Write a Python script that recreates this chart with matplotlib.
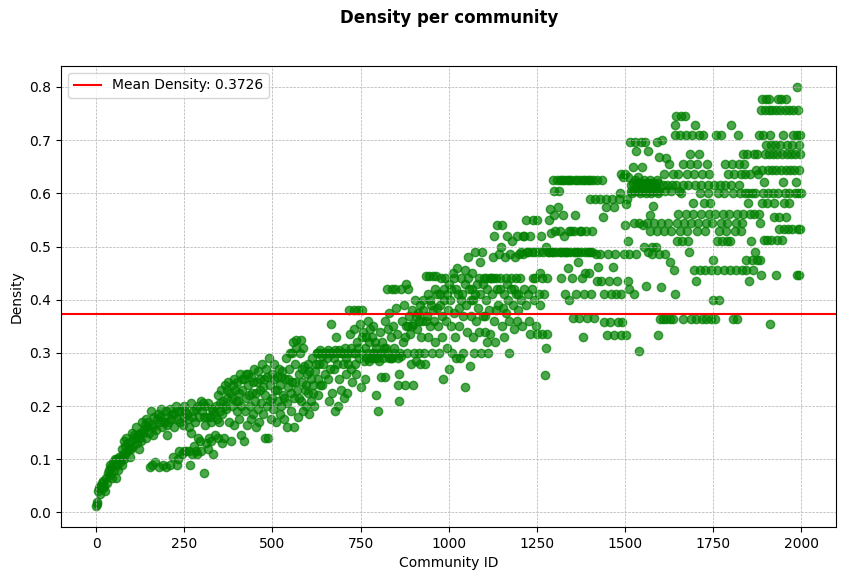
import matplotlib
matplotlib.use("Agg")
import matplotlib.pyplot as plt

# (community id, density), one list per id range
block_0_400 = [
    (0, 0.012), (2, 0.02), (3, 0.015), (5, 0.04), (8, 0.045), (10, 0.05), (12, 0.035), (15, 0.055),
    (18, 0.045), (20, 0.06), (22, 0.05), (25, 0.04), (28, 0.065), (30, 0.055), (32, 0.075), (35, 0.08),
    (38, 0.07), (40, 0.09), (42, 0.085), (45, 0.065), (48, 0.095), (50, 0.08), (52, 0.1), (55, 0.065),
    (58, 0.1), (60, 0.09), (65, 0.105), (68, 0.095), (70, 0.1), (72, 0.12), (75, 0.11), (78, 0.135),
    (80, 0.1), (82, 0.125), (85, 0.14), (88, 0.115), (90, 0.13), (95, 0.105), (98, 0.12), (100, 0.135),
    (102, 0.15), (105, 0.125), (110, 0.14), (112, 0.16), (115, 0.13), (118, 0.145), (120, 0.12),
    (125, 0.15), (128, 0.135), (130, 0.17), (135, 0.155), (140, 0.14), (142, 0.175), (145, 0.16),
    (150, 0.15), (152, 0.085), (155, 0.19), (158, 0.165), (160, 0.145), (165, 0.18), (168, 0.095),
    (170, 0.155), (175, 0.185), (178, 0.085), (180, 0.17), (185, 0.195), (188, 0.16), (190, 0.09),
    (195, 0.18), (200, 0.145), (205, 0.17), (208, 0.09), (210, 0.195), (215, 0.185), (218, 0.105),
    (220, 0.16), (225, 0.2), (228, 0.09), (230, 0.175), (235, 0.115), (240, 0.19), (242, 0.11),
    (245, 0.165), (250, 0.2), (255, 0.115), (258, 0.185), (260, 0.175), (265, 0.09), (268, 0.205),
    (270, 0.15), (275, 0.19), (278, 0.125), (280, 0.17), (285, 0.11), (288, 0.2), (290, 0.14),
    (292, 0.18), (295, 0.135), (298, 0.21), (300, 0.19), (305, 0.075), (308, 0.165), (310, 0.2),
    (312, 0.13), (315, 0.18), (318, 0.205), (320, 0.14), (325, 0.17), (328, 0.195), (330, 0.11),
    (335, 0.185), (338, 0.145), (340, 0.2), (345, 0.22), (348, 0.17), (350, 0.205), (355, 0.23),
    (358, 0.185), (360, 0.21), (362, 0.14), (365, 0.24), (368, 0.195), (370, 0.215), (375, 0.245),
    (378, 0.17), (380, 0.225), (382, 0.135), (385, 0.2), (388, 0.24), (390, 0.165), (395, 0.23),
    (398, 0.19),
    (62, 0.08), (73, 0.09), (83, 0.11), (93, 0.12), (108, 0.145), (122, 0.14), (132, 0.15),
    (138, 0.165), (148, 0.17), (162, 0.16), (172, 0.175), (182, 0.18), (192, 0.17), (198, 0.19),
    (202, 0.165), (212, 0.175), (222, 0.185), (232, 0.19), (238, 0.17), (248, 0.18), (252, 0.19),
    (262, 0.16), (272, 0.18), (282, 0.195), (302, 0.205), (306, 0.18), (322, 0.18), (332, 0.19),
    (342, 0.175), (352, 0.19), (366, 0.2), (372, 0.23), (384, 0.215), (392, 0.25), (396, 0.21),
    (158, 0.09), (198, 0.085), (232, 0.1), (248, 0.115), (262, 0.115), (272, 0.11), (282, 0.115),
    (296, 0.115), (316, 0.12), (326, 0.135), (346, 0.14), (356, 0.13),
]

block_400_800 = [
    (400, 0.245), (402, 0.21), (405, 0.175), (408, 0.26), (410, 0.2), (412, 0.145), (415, 0.23),
    (418, 0.135), (420, 0.25), (422, 0.19), (425, 0.215), (428, 0.165), (430, 0.26), (432, 0.24),
    (435, 0.2), (438, 0.175), (440, 0.255), (442, 0.225), (445, 0.185), (448, 0.27), (450, 0.21),
    (452, 0.16), (455, 0.245), (458, 0.195), (460, 0.265), (462, 0.17), (465, 0.23), (468, 0.205),
    (470, 0.28), (472, 0.185), (475, 0.25), (478, 0.14), (480, 0.22), (482, 0.27), (485, 0.2),
    (488, 0.14), (490, 0.29), (492, 0.24), (495, 0.175), (498, 0.26), (500, 0.215), (502, 0.195),
    (505, 0.28), (508, 0.23), (510, 0.17), (512, 0.255), (515, 0.21), (518, 0.27), (520, 0.185),
    (522, 0.24), (525, 0.2), (528, 0.265), (530, 0.22), (532, 0.175), (535, 0.25), (538, 0.29),
    (540, 0.205), (542, 0.16), (545, 0.235), (548, 0.27), (550, 0.3), (552, 0.19), (555, 0.245),
    (558, 0.32), (560, 0.215), (562, 0.16), (565, 0.28), (568, 0.325), (570, 0.23), (572, 0.18),
    (575, 0.26), (578, 0.3), (580, 0.21), (582, 0.325), (585, 0.245), (588, 0.19), (590, 0.275),
    (592, 0.23), (595, 0.2), (598, 0.26), (600, 0.28), (602, 0.225), (605, 0.185), (608, 0.25),
    (610, 0.21), (612, 0.29), (615, 0.24), (618, 0.2), (620, 0.265), (625, 0.3), (628, 0.22),
    (630, 0.25), (632, 0.28), (635, 0.3), (640, 0.295), (642, 0.24), (645, 0.3), (650, 0.26),
    (655, 0.3), (658, 0.25), (660, 0.21), (662, 0.3), (665, 0.355), (668, 0.225), (670, 0.3),
    (675, 0.27), (678, 0.19), (680, 0.33), (682, 0.3), (685, 0.2), (688, 0.25), (690, 0.305),
    (695, 0.23), (698, 0.3), (700, 0.28), (702, 0.215), (705, 0.31), (708, 0.26), (710, 0.29),
    (712, 0.225), (715, 0.3), (718, 0.38), (720, 0.335), (722, 0.27), (725, 0.245), (728, 0.3),
    (730, 0.38), (732, 0.345), (735, 0.28), (738, 0.26), (740, 0.32), (742, 0.38), (745, 0.29),
    (748, 0.355), (750, 0.3), (752, 0.235), (755, 0.38), (758, 0.34), (760, 0.285), (762, 0.25),
    (765, 0.33), (768, 0.29), (770, 0.36), (772, 0.3), (775, 0.285), (778, 0.345), (780, 0.29),
    (782, 0.33), (785, 0.35), (788, 0.29), (790, 0.32), (792, 0.3), (795, 0.22), (798, 0.29),
    (800, 0.19),
    (404, 0.225), (414, 0.25), (424, 0.26), (434, 0.22), (444, 0.245), (454, 0.225), (464, 0.25),
    (474, 0.235), (484, 0.255), (494, 0.21), (504, 0.25), (514, 0.23), (524, 0.255), (534, 0.215),
    (544, 0.25), (554, 0.225), (564, 0.245), (574, 0.215), (584, 0.27), (594, 0.24), (604, 0.265),
    (614, 0.225), (624, 0.28), (634, 0.24), (644, 0.28), (654, 0.29), (664, 0.27), (674, 0.29),
    (684, 0.28), (694, 0.3), (704, 0.3), (714, 0.28), (724, 0.31), (734, 0.3), (744, 0.31),
    (754, 0.33), (764, 0.31), (774, 0.32), (784, 0.3), (794, 0.31), (556, 0.3), (566, 0.31),
    (586, 0.31), (626, 0.3), (636, 0.305), (648, 0.3), (658, 0.305), (668, 0.3), (678, 0.305),
]

block_800_1200 = [
    (802, 0.285), (805, 0.34), (808, 0.255), (810, 0.3), (812, 0.32), (815, 0.29), (818, 0.36),
    (820, 0.255), (822, 0.31), (825, 0.42), (828, 0.345), (830, 0.29), (832, 0.375), (835, 0.33),
    (838, 0.42), (840, 0.29), (842, 0.35), (845, 0.31), (848, 0.42), (850, 0.385), (852, 0.335),
    (855, 0.24), (858, 0.21), (860, 0.26), (862, 0.3), (865, 0.42), (868, 0.36), (870, 0.32),
    (872, 0.39), (875, 0.24), (878, 0.35), (880, 0.43), (882, 0.3), (885, 0.42), (888, 0.37),
    (890, 0.335), (892, 0.28), (895, 0.38), (898, 0.24), (900, 0.355), (902, 0.3), (905, 0.4),
    (908, 0.285), (910, 0.345), (912, 0.375), (915, 0.3), (918, 0.28), (920, 0.39), (922, 0.33),
    (925, 0.36), (928, 0.4), (930, 0.3), (932, 0.28), (935, 0.445), (938, 0.37), (940, 0.33),
    (942, 0.41), (945, 0.445), (948, 0.35), (950, 0.39), (952, 0.3), (955, 0.445), (958, 0.36),
    (960, 0.42), (962, 0.32), (965, 0.445), (968, 0.385), (970, 0.35), (972, 0.3), (975, 0.41),
    (978, 0.44), (980, 0.37), (982, 0.33), (985, 0.25), (988, 0.42), (990, 0.44), (992, 0.36),
    (995, 0.31), (998, 0.38), (1000, 0.27), (1002, 0.43), (1005, 0.4), (1008, 0.35), (1010, 0.3),
    (1012, 0.45), (1015, 0.375), (1018, 0.33), (1020, 0.42), (1022, 0.29), (1025, 0.46),
    (1028, 0.385), (1030, 0.35), (1032, 0.29), (1035, 0.44), (1038, 0.41), (1040, 0.37),
    (1042, 0.3), (1045, 0.455), (1047, 0.235), (1050, 0.39), (1052, 0.34), (1055, 0.48),
    (1058, 0.42), (1060, 0.275), (1062, 0.37), (1065, 0.45), (1068, 0.33), (1070, 0.4),
    (1072, 0.3), (1075, 0.49), (1078, 0.36), (1080, 0.43), (1082, 0.385), (1085, 0.34),
    (1088, 0.47), (1090, 0.41), (1092, 0.3), (1095, 0.49), (1098, 0.37), (1100, 0.44),
    (1102, 0.34), (1105, 0.4), (1108, 0.32), (1110, 0.42), (1112, 0.3), (1115, 0.38),
    (1118, 0.335), (1120, 0.44), (1122, 0.41), (1125, 0.48), (1128, 0.36), (1130, 0.52),
    (1132, 0.32), (1135, 0.44), (1138, 0.54), (1140, 0.39), (1142, 0.485), (1145, 0.42),
    (1148, 0.5), (1150, 0.35), (1152, 0.54), (1155, 0.385), (1158, 0.33), (1160, 0.48),
    (1162, 0.44), (1165, 0.52), (1168, 0.4), (1170, 0.3), (1172, 0.36), (1175, 0.485),
    (1178, 0.42), (1180, 0.51), (1182, 0.39), (1185, 0.345), (1188, 0.48), (1190, 0.41),
    (1192, 0.44), (1195, 0.52), (1198, 0.38), (1200, 0.485),
    (806, 0.3), (816, 0.31), (826, 0.3), (836, 0.29), (846, 0.3), (856, 0.29), (866, 0.295),
    (876, 0.33), (886, 0.35), (896, 0.35), (906, 0.37), (916, 0.36), (926, 0.38), (936, 0.36),
    (946, 0.4), (956, 0.38), (966, 0.41), (976, 0.39), (986, 0.4), (996, 0.41), (1006, 0.42),
    (1016, 0.44), (1026, 0.41), (1036, 0.4), (1046, 0.43), (1056, 0.44), (1066, 0.42),
    (1076, 0.41), (1086, 0.44), (1096, 0.43), (1106, 0.44), (1116, 0.44), (1126, 0.44),
    (1136, 0.42), (1146, 0.44), (1156, 0.41), (1166, 0.43), (1176, 0.44), (1186, 0.42),
    (1196, 0.41), (1063, 0.4), (1104, 0.37), (1134, 0.38), (1164, 0.375), (1194, 0.36),
]

block_1200_1600 = [
    (1202, 0.44), (1205, 0.4), (1208, 0.35), (1210, 0.52), (1212, 0.485), (1215, 0.42),
    (1218, 0.39), (1220, 0.55), (1222, 0.49), (1225, 0.41), (1228, 0.36), (1230, 0.52),
    (1232, 0.335), (1235, 0.49), (1238, 0.55), (1240, 0.44), (1242, 0.4), (1245, 0.49),
    (1248, 0.35), (1250, 0.55), (1252, 0.335), (1255, 0.49), (1258, 0.39), (1260, 0.45),
    (1262, 0.52), (1265, 0.335), (1268, 0.49), (1270, 0.41), (1272, 0.258), (1275, 0.5),
    (1276, 0.31), (1278, 0.44), (1280, 0.335), (1282, 0.49), (1285, 0.55), (1288, 0.57),
    (1290, 0.525), (1292, 0.49), (1295, 0.625), (1298, 0.56), (1300, 0.605), (1302, 0.53),
    (1305, 0.49), (1308, 0.625), (1310, 0.575), (1312, 0.605), (1315, 0.53), (1318, 0.49),
    (1320, 0.44), (1322, 0.625), (1325, 0.56), (1328, 0.52), (1330, 0.41), (1332, 0.49),
    (1335, 0.625), (1338, 0.46), (1340, 0.53), (1342, 0.4), (1345, 0.49), (1348, 0.625),
    (1350, 0.44), (1352, 0.365), (1355, 0.53), (1357, 0.56), (1360, 0.49), (1362, 0.41),
    (1365, 0.625), (1368, 0.47), (1370, 0.365), (1372, 0.53), (1375, 0.49), (1378, 0.44),
    (1380, 0.625), (1382, 0.33), (1385, 0.41), (1388, 0.49), (1390, 0.53), (1392, 0.365),
    (1395, 0.625), (1398, 0.45), (1400, 0.59), (1402, 0.49), (1405, 0.41), (1408, 0.53),
    (1410, 0.625), (1412, 0.365), (1415, 0.59), (1418, 0.486), (1420, 0.436), (1422, 0.625),
    (1425, 0.461), (1428, 0.59), (1430, 0.486), (1432, 0.436), (1435, 0.625), (1437, 0.555),
    (1440, 0.41), (1442, 0.358), (1445, 0.59), (1447, 0.575), (1450, 0.333), (1452, 0.486),
    (1455, 0.436), (1458, 0.358), (1460, 0.41), (1462, 0.59), (1465, 0.461), (1468, 0.333),
    (1470, 0.575), (1472, 0.486), (1475, 0.41), (1478, 0.436), (1480, 0.358), (1482, 0.59),
    (1485, 0.6), (1488, 0.333), (1489, 0.636), (1490, 0.41), (1492, 0.358), (1494, 0.63),
    (1497, 0.485), (1499, 0.54), (1500, 0.636), (1502, 0.333), (1504, 0.58), (1506, 0.59),
    (1508, 0.51), (1509, 0.436), (1510, 0.63), (1512, 0.485), (1513, 0.42), (1515, 0.696),
    (1516, 0.605), (1518, 0.615), (1520, 0.6), (1522, 0.62), (1523, 0.65), (1525, 0.41),
    (1526, 0.545), (1527, 0.605), (1528, 0.696), (1530, 0.625), (1531, 0.485), (1532, 0.68),
    (1533, 0.62), (1535, 0.615), (1537, 0.605), (1538, 0.63), (1540, 0.303), (1541, 0.545),
    (1542, 0.6), (1544, 0.62), (1545, 0.696), (1547, 0.605), (1548, 0.65), (1550, 0.615),
    (1551, 0.54), (1552, 0.62), (1553, 0.5), (1555, 0.625), (1557, 0.605), (1558, 0.696),
    (1560, 0.6), (1561, 0.425), (1562, 0.545), (1563, 0.62), (1565, 0.68), (1566, 0.49),
    (1567, 0.605), (1568, 0.615), (1570, 0.56), (1571, 0.53), (1572, 0.625), (1573, 0.62),
    (1575, 0.6), (1576, 0.5), (1577, 0.605), (1578, 0.486), (1580, 0.576), (1582, 0.545),
    (1583, 0.62), (1585, 0.615), (1587, 0.605), (1588, 0.5), (1590, 0.696), (1591, 0.53),
    (1592, 0.625), (1593, 0.62), (1594, 0.333), (1595, 0.6), (1596, 0.485), (1597, 0.668),
    (1598, 0.605), (1599, 0.364),
    (1204, 0.49), (1214, 0.52), (1226, 0.49), (1236, 0.42), (1246, 0.44), (1256, 0.41),
    (1266, 0.44), (1286, 0.49), (1296, 0.49), (1316, 0.49), (1326, 0.49), (1336, 0.49),
    (1346, 0.53), (1356, 0.49), (1366, 0.49), (1376, 0.53), (1386, 0.45), (1396, 0.49),
    (1406, 0.49), (1316, 0.625), (1328, 0.625), (1342, 0.625), (1358, 0.625), (1372, 0.625),
    (1388, 0.625), (1402, 0.625),
]

block_1600_2000 = [
    (1602, 0.424), (1603, 0.545), (1605, 0.7), (1607, 0.615), (1608, 0.364), (1610, 0.636),
    (1612, 0.53), (1614, 0.485), (1615, 0.605), (1617, 0.667), (1618, 0.364), (1620, 0.615),
    (1622, 0.545), (1625, 0.655), (1627, 0.47), (1628, 0.364), (1630, 0.605), (1632, 0.53),
    (1634, 0.615), (1636, 0.364), (1637, 0.636), (1639, 0.455), (1641, 0.71), (1642, 0.41),
    (1643, 0.728), (1645, 0.615), (1646, 0.746), (1647, 0.51), (1648, 0.545), (1650, 0.636),
    (1652, 0.562), (1654, 0.605), (1655, 0.71), (1657, 0.53), (1658, 0.746), (1660, 0.6),
    (1662, 0.51), (1664, 0.615), (1665, 0.655), (1666, 0.364), (1668, 0.545), (1670, 0.746),
    (1672, 0.562), (1674, 0.71), (1675, 0.636), (1677, 0.53), (1679, 0.51), (1680, 0.615),
    (1682, 0.49), (1684, 0.673), (1685, 0.655), (1687, 0.364), (1688, 0.545), (1690, 0.71),
    (1692, 0.562), (1693, 0.581), (1695, 0.455), (1697, 0.636), (1698, 0.728), (1700, 0.615),
    (1701, 0.436), (1703, 0.364), (1704, 0.655), (1705, 0.53), (1707, 0.545), (1709, 0.71),
    (1710, 0.673), (1712, 0.6), (1713, 0.455), (1715, 0.562), (1717, 0.615), (1718, 0.364),
    (1720, 0.636), (1722, 0.71), (1724, 0.581), (1726, 0.53), (1728, 0.455), (1730, 0.545),
    (1731, 0.364), (1733, 0.655), (1735, 0.615), (1736, 0.6), (1738, 0.562), (1740, 0.636),
    (1742, 0.581), (1744, 0.364), (1745, 0.455), (1748, 0.545), (1750, 0.474), (1751, 0.4),
    (1753, 0.615), (1755, 0.562), (1757, 0.364), (1759, 0.71), (1760, 0.51), (1762, 0.455),
    (1764, 0.6), (1766, 0.53), (1768, 0.4), (1770, 0.615), (1772, 0.545), (1774, 0.71),
    (1776, 0.51), (1778, 0.562), (1780, 0.455), (1782, 0.6), (1783, 0.655), (1785, 0.615),
    (1787, 0.53), (1789, 0.51), (1791, 0.545), (1792, 0.636), (1795, 0.562), (1797, 0.51),
    (1798, 0.455), (1800, 0.728), (1802, 0.615), (1804, 0.655), (1806, 0.364), (1808, 0.6),
    (1810, 0.636), (1812, 0.53), (1814, 0.455), (1815, 0.545), (1817, 0.562), (1819, 0.364),
    (1821, 0.71), (1823, 0.615), (1825, 0.655), (1826, 0.6), (1828, 0.636), (1830, 0.53),
    (1832, 0.545), (1833, 0.455), (1835, 0.673), (1836, 0.562), (1838, 0.655), (1840, 0.6),
    (1842, 0.636), (1844, 0.474), (1845, 0.455), (1847, 0.673), (1849, 0.581), (1850, 0.6),
    (1852, 0.436), (1854, 0.562), (1856, 0.636), (1858, 0.51), (1860, 0.6), (1862, 0.474),
    (1863, 0.455), (1865, 0.673), (1866, 0.562), (1868, 0.49), (1870, 0.6), (1872, 0.644),
    (1874, 0.474), (1876, 0.673), (1878, 0.636), (1880, 0.562), (1881, 0.71), (1883, 0.474),
    (1884, 0.545), (1885, 0.446), (1887, 0.757), (1888, 0.581), (1889, 0.778), (1890, 0.644),
    (1892, 0.6), (1893, 0.71), (1894, 0.512), (1896, 0.622), (1897, 0.673), (1898, 0.757),
    (1900, 0.778), (1901, 0.69), (1902, 0.581), (1904, 0.512), (1905, 0.644), (1907, 0.6),
    (1908, 0.757), (1909, 0.673), (1910, 0.778), (1911, 0.355), (1912, 0.71), (1914, 0.69),
    (1915, 0.512), (1917, 0.644), (1918, 0.757), (1920, 0.673), (1921, 0.6), (1923, 0.556),
    (1924, 0.581), (1926, 0.69), (1928, 0.644), (1929, 0.757), (1930, 0.446), (1931, 0.512),
    (1932, 0.673), (1934, 0.778), (1935, 0.6), (1937, 0.556), (1938, 0.533), (1940, 0.757),
    (1941, 0.69), (1942, 0.644), (1944, 0.778), (1945, 0.512), (1946, 0.673), (1948, 0.71),
    (1949, 0.622), (1950, 0.581), (1952, 0.533), (1953, 0.757), (1954, 0.6), (1956, 0.778),
    (1957, 0.556), (1958, 0.644), (1960, 0.69), (1961, 0.673), (1963, 0.533), (1965, 0.581),
    (1966, 0.757), (1967, 0.6), (1969, 0.644), (1971, 0.673), (1973, 0.69), (1975, 0.533),
    (1977, 0.71), (1978, 0.757), (1980, 0.644), (1982, 0.6), (1984, 0.673), (1986, 0.622),
    (1987, 0.8), (1988, 0.446), (1989, 0.71), (1990, 0.757), (1991, 0.533), (1992, 0.6),
    (1993, 0.69), (1994, 0.644), (1995, 0.446), (1996, 0.673), (1997, 0.71), (1998, 0.533),
    (1999, 0.6),
]

mean_density = 0.3726

points = block_0_400 + block_400_800 + block_800_1200 + block_1200_1600 + block_1600_2000
community_ids = [p[0] for p in points]
densities = [p[1] for p in points]

fig = plt.figure(figsize=(8.46, 5.8), dpi=100)
ax = fig.add_axes([61 / 846, 1 - 527 / 580, 775 / 846, 461 / 580])

ax.scatter(community_ids, densities, color="green", alpha=0.7, s=36)
ax.axhline(mean_density, color="red", linewidth=1.5, label=f"Mean Density: {mean_density:.4f}")

ax.set_xlabel("Community ID")
ax.set_ylabel("Density")
ax.grid(True, linestyle="--", linewidth=0.5, color="#b0b0b0")
ax.legend(loc="upper left")
fig.suptitle("Density per community", fontsize=12, fontweight="bold", x=449 / 846, y=0.985)

plt.savefig("out.png", dpi=100)
